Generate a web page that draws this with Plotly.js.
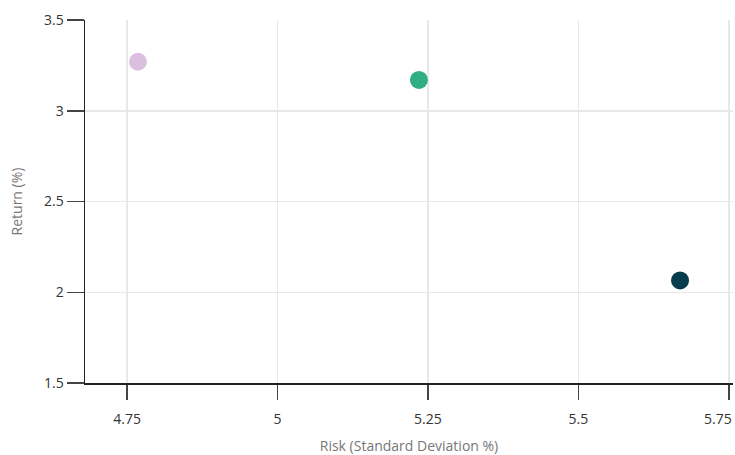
<!DOCTYPE html>
<html>
<head>
<meta charset="utf-8">
<script src="https://cdn.plot.ly/plotly-3.0.1.min.js"></script>
<style>html,body{margin:0;padding:0;background:#fff;}#chart{width:735px;height:455px;}</style>
</head>
<body>
<div id="chart"></div>
<script>
const names = ["Portfolio A", "Portfolio B", "Portfolio C"];
const risk = [4.768, 5.235, 5.669];
const ret = [3.27, 3.17, 2.065];
const colors = ["#dbbfdf", "#2fae86", "#053d4c"];
const xTicks = [4.75, 5, 5.25, 5.5, 5.75];
const xTickText = ["4.75", "5", "5.25", "5.5", ""];
const lastXTick = 5.75;
const lastXTickText = "5.75";
const yTicks = [1.5, 2, 2.5, 3, 3.5];
const yTickText = ["1.5", "2", "2.5", "3", "3.5"];

const traces = names.map((n, i) => ({
  type: "scatter",
  mode: "markers",
  name: n,
  x: [risk[i]],
  y: [ret[i]],
  marker: {size: 18, color: colors[i]},
  hoverinfo: "x+y+name"
}));

const layout = {
  width: 735, height: 455,
  margin: {l: 85, r: 2, t: 20, b: 72},
  showlegend: false,
  paper_bgcolor: "#fff", plot_bgcolor: "#fff",
  font: {family: "Open Sans, sans-serif", size: 14, color: "#333"},
  xaxis: {
    range: [4.68, 5.757],
    tickvals: xTicks,
    ticktext: xTickText,
    ticks: "outside", ticklen: 15, tickwidth: 1.5, tickcolor: "#444",
    ticklabelstandoff: 8,
    showline: true, linecolor: "#222", linewidth: 1.5,
    showgrid: true, gridcolor: "#e8e8e8", gridwidth: 1.5,
    zeroline: false,
    tickfont: {size: 14, color: "#333"},
    title: {text: "Risk (Standard Deviation %)", font: {size: 14, color: "#777"}, standoff: 18}
  },
  yaxis: {
    range: [1.5, 3.5],
    tickvals: yTicks,
    ticktext: yTickText,
    ticks: "outside", ticklen: 17, tickwidth: 1.5, tickcolor: "#444",
    showline: true, linecolor: "#222", linewidth: 1.5,
    showgrid: true, gridcolor: "#e8e8e8", gridwidth: 1.5,
    zeroline: false,
    tickfont: {size: 14, color: "#333"},
    title: {text: "Return (%)", font: {size: 14, color: "#777"}, standoff: 18}
  },
  annotations: [{
    xref: "x", yref: "paper",
    x: lastXTick, y: 0,
    text: lastXTickText,
    showarrow: false,
    xanchor: "right", yanchor: "middle",
    xshift: 5, yshift: -35,
    font: {size: 14, color: "#333"}
  }]
};

Plotly.newPlot("chart", traces, layout, {displayModeBar: false, staticPlot: true});
</script>
</body>
</html>
